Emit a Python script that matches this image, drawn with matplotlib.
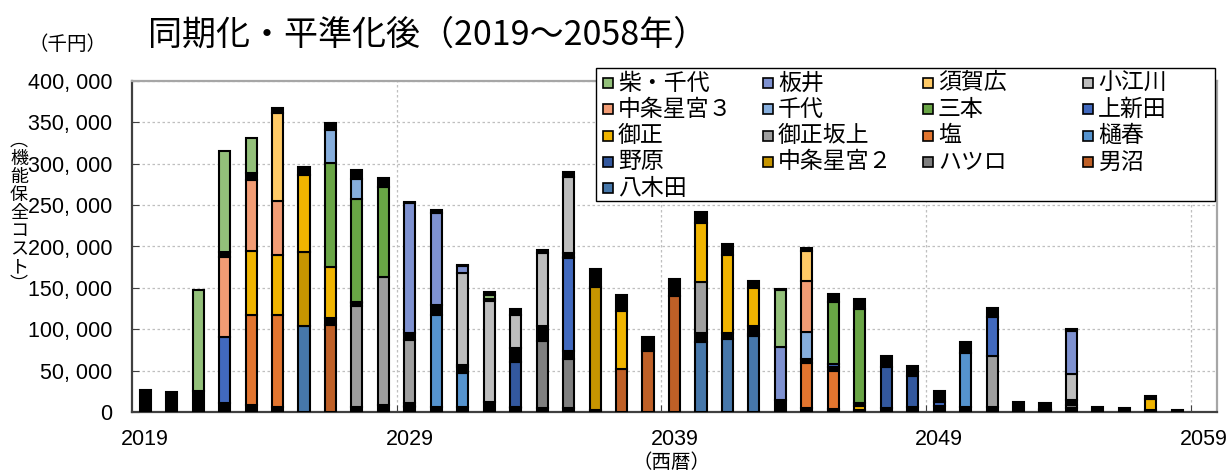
import numpy as np
import matplotlib.pyplot as plt
from matplotlib.patches import Rectangle
from matplotlib.ticker import MultipleLocator, FuncFormatter

plt.rcParams['font.family'] = ['Noto Sans CJK JP', 'DejaVu Sans']

# data (千円), one value per year 2019..2058
years = np.arange(2019, 2059)

shiba = [0, 0, 122600, 121900, 41400, 0, 0, 0, 0, 0,
         0, 0, 0, 5000, 0, 0, 0, 0, 0, 0,
         0, 0, 0, 0, 68300, 0, 0, 0, 0, 0,
         0, 0, 0, 0, 0, 0, 0, 0, 0, 0]
itai = [0, 0, 0, 0, 0, 0, 0, 0, 0, 0,
        156900, 111500, 8000, 0, 0, 0, 0, 0, 0, 0,
        0, 0, 0, 0, 64000, 0, 0, 0, 0, 0,
        0, 0, 0, 0, 0, 52300, 0, 0, 0, 0]
sukahiro = [0, 0, 0, 0, 0, 107100, 0, 0, 0, 0,
            0, 0, 0, 2000, 0, 0, 0, 0, 0, 0,
            0, 0, 0, 0, 0, 36600, 0, 0, 0, 0,
            0, 0, 0, 0, 0, 0, 0, 0, 0, 0]
koegawa = [0, 0, 0, 0, 0, 0, 0, 0, 0, 0,
           0, 0, 110900, 123000, 40300, 88500, 90900, 0, 0, 0,
           0, 0, 0, 0, 0, 0, 0, 0, 0, 0,
           0, 0, 0, 0, 0, 31400, 0, 0, 0, 0]
chujo3 = [0, 0, 0, 96500, 85300, 65100, 0, 0, 0, 0,
          0, 0, 2500, 0, 0, 0, 2000, 0, 0, 0,
          0, 0, 0, 0, 0, 61100, 0, 0, 0, 0,
          0, 0, 0, 0, 0, 0, 0, 0, 0, 0]
chiyo = [0, 0, 0, 0, 0, 0, 0, 40200, 23700, 0,
         0, 0, 0, 0, 0, 0, 0, 0, 0, 0,
         0, 0, 0, 0, 0, 33500, 0, 0, 0, 0,
         0, 0, 0, 0, 0, 0, 0, 0, 0, 0]
sanbon = [0, 0, 0, 0, 0, 0, 0, 124700, 124700, 107800,
          0, 0, 0, 0, 0, 0, 0, 0, 0, 0,
          0, 0, 0, 0, 0, 0, 75300, 113400, 0, 0,
          0, 0, 0, 0, 0, 0, 0, 0, 0, 0]
kamishinden = [0, 0, 0, 79500, 0, 0, 0, 0, 1500, 0,
               0, 0, 0, 0, 0, 0, 112700, 0, 0, 0,
               0, 0, 0, 0, 0, 0, 3500, 0, 0, 0,
               4000, 0, 47100, 0, 0, 0, 0, 0, 0, 0]
mishou = [0, 0, 0, 0, 78400, 72000, 92500, 62400, 0, 0,
          0, 0, 0, 0, 0, 0, 0, 0, 70000, 0,
          0, 70400, 93800, 45500, 0, 0, 0, 4000, 0, 0,
          0, 0, 0, 0, 0, 0, 0, 0, 12900, 0]
sakaue = [0, 0, 0, 0, 0, 0, 0, 0, 122300, 154900,
          76400, 0, 0, 0, 0, 0, 0, 0, 0, 0,
          0, 61600, 0, 0, 0, 0, 0, 0, 0, 0,
          0, 0, 62400, 0, 0, 0, 0, 0, 0, 0]
shio = [0, 0, 0, 0, 107900, 111500, 0, 0, 0, 0,
        0, 0, 0, 0, 0, 0, 0, 0, 0, 0,
        0, 0, 0, 0, 0, 54300, 46700, 0, 0, 0,
        0, 0, 0, 0, 1200, 0, 0, 0, 0, 0]
hiharu = [0, 0, 0, 0, 0, 0, 0, 0, 0, 0,
          0, 111500, 41100, 0, 0, 0, 0, 0, 0, 0,
          0, 0, 0, 3000, 0, 0, 0, 0, 0, 0,
          0, 66000, 0, 0, 0, 0, 0, 0, 0, 0]
nohara = [0, 0, 0, 0, 0, 0, 0, 0, 0, 0,
          0, 0, 0, 0, 55000, 0, 0, 0, 0, 0,
          0, 0, 0, 0, 0, 0, 0, 0, 49500, 37000,
          0, 0, 0, 0, 0, 0, 0, 0, 0, 0]
chujo2 = [0, 0, 0, 0, 0, 0, 89700, 0, 0, 0,
          1500, 0, 0, 0, 1500, 0, 0, 148000, 0, 0,
          0, 0, 0, 0, 0, 0, 0, 0, 0, 0,
          0, 0, 0, 0, 0, 0, 0, 0, 0, 0]
hatsuro = [0, 0, 0, 0, 0, 0, 0, 0, 0, 0,
           0, 0, 0, 0, 0, 80500, 59200, 0, 0, 0,
           0, 0, 0, 0, 0, 0, 0, 0, 0, 0,
           0, 0, 0, 0, 0, 4000, 0, 0, 0, 0]
onuma = [0, 0, 0, 0, 0, 0, 0, 105400, 0, 0,
         0, 0, 0, 0, 0, 0, 0, 0, 52300, 73600,
         140000, 0, 0, 0, 0, 0, 0, 0, 0, 0,
         0, 0, 0, 0, 0, 0, 0, 0, 0, 0]
yagita = [0, 0, 0, 0, 0, 0, 104200, 0, 0, 0,
          0, 0, 0, 0, 0, 0, 0, 0, 0, 0,
          0, 84900, 87700, 91700, 0, 0, 0, 0, 0, 0,
          0, 0, 0, 0, 0, 0, 0, 0, 0, 0]

# small facilities not in the legend (drawn black)
other_bottom = [26000, 24000, 25000, 11000, 8800, 6000, 0, 0, 6000, 8800,
                5500, 6000, 6000, 11700, 4500, 4800, 4800, 2800, 0, 0,
                0, 0, 0, 0, 14900, 4400, 3200, 3000, 4400, 6400,
                7600, 5600, 5600, 12500, 2400, 4400, 6400, 4400, 2400, 2400]
other_mid1 = [0, 0, 0, 0, 0, 0, 0, 8000, 0, 0,
              3900, 12000, 7500, 0, 16000, 18900, 9200, 0, 0, 0,
              0, 10900, 8000, 9100, 0, 4800, 4500, 0, 0, 0,
              0, 0, 0, 0, 6900, 6100, 0, 0, 0, 0]
other_mid2 = [0, 0, 0, 0, 0, 0, 0, 0, 3000, 0,
              8000, 0, 0, 0, 0, 0, 0, 0, 0, 0,
              0, 0, 0, 0, 0, 0, 0, 3500, 0, 0,
              0, 0, 0, 0, 0, 0, 0, 0, 0, 0]
other_mid3 = [0, 0, 0, 6000, 8900, 0, 0, 0, 0, 0,
              0, 0, 0, 0, 0, 0, 4800, 0, 0, 0,
              0, 0, 0, 0, 0, 0, 0, 0, 0, 0,
              0, 0, 0, 0, 0, 0, 0, 0, 0, 0]
other_top = [0, 0, 0, 0, 0, 5200, 10100, 8100, 11300, 10900,
             1000, 3000, 1800, 3900, 7400, 3200, 6900, 22000, 18500, 17300,
             21300, 14100, 13300, 9200, 1700, 4000, 8800, 12100, 13700, 12100,
             13700, 12900, 10000, 0, 0, 1600, 0, 0, 4000, 0]

# legend order (same as the original chart)
legend_names = ['柴・千代', '板井', '須賀広', '小江川',
                '中条星宮３', '千代', '三本', '上新田',
                '御正', '御正坂上', '塩', '樋春',
                '野原', '中条星宮２', 'ハツロ', '男沼',
                '八木田']
legend_vals = [shiba, itai, sukahiro, koegawa, chujo3, chiyo, sanbon, kamishinden,
               mishou, sakaue, shio, hiharu, nohara, chujo2, hatsuro, onuma, yagita]
colors = ['#93C07A', '#7E91D0', '#FFCA66', '#BDBDBD',
          '#F29C74', '#86AEDD', '#69A545', '#4169BE',
          '#F0B400', '#9E9E9E', '#E2752F', '#5593CE',
          '#33589E', '#C69500', '#7F7F7F', '#BF6027',
          '#4677AA']
BLACK = '#000000'

# stacking from bottom to top
col = dict(zip(legend_names, colors))
val = dict(zip(legend_names, legend_vals))
stack = [(other_bottom, BLACK)]
for nm in ['八木田', '男沼', 'ハツロ', '中条星宮２', '野原', '樋春', '塩']:
    stack.append((val[nm], col[nm]))
stack.append((other_mid1, BLACK))
for nm in ['御正坂上', '御正']:
    stack.append((val[nm], col[nm]))
stack.append((other_mid2, BLACK))
for nm in ['上新田', '三本', '千代', '中条星宮３']:
    stack.append((val[nm], col[nm]))
stack.append((other_mid3, BLACK))
for nm in ['小江川', '須賀広', '板井', '柴・千代']:
    stack.append((val[nm], col[nm]))
stack.append((other_top, BLACK))

W, H = 1228, 475
fig = plt.figure(figsize=(W / 100, H / 100), dpi=100)
ax = fig.add_axes([132 / W, 1 - 412 / H, (1217 - 132) / W, (412 - 81) / H])

bottom = np.zeros(len(years))
for vals, c in stack:
    v = np.array(vals, dtype=float)
    m = v > 0
    ax.bar(years[m], v[m], bottom=bottom[m], width=0.42, color=c,
           edgecolor='black', linewidth=1.5, zorder=3)
    bottom += v

ax.set_xlim(2018.5, 2059.5)
ax.set_ylim(0, 400000)
ax.yaxis.set_major_locator(MultipleLocator(50000))
ax.yaxis.set_major_formatter(FuncFormatter(lambda v, p: f"{v:,.0f}".replace(',', ', ')))

ax.set_xticks([2028.5, 2038.5, 2048.5, 2058.5])
ax.set_xticklabels([])
ax.set_xticks([2019, 2029, 2039, 2049, 2059], minor=True)
ax.set_xticklabels(['2019', '2029', '2039', '2049', '2059'], minor=True)
ax.tick_params(axis='x', which='major', direction='in', length=5, color='#404040')
ax.tick_params(axis='x', which='minor', length=0, pad=12, labelsize=15.5,
               labelfontfamily='Liberation Sans')
ax.tick_params(axis='y', direction='in', length=5, color='#404040', pad=14, labelsize=15.5,
               labelfontfamily='Liberation Sans')

ax.grid(axis='y', color='#BFBFBF', linestyle=(0, (2, 2)), linewidth=0.9)
ax.grid(axis='x', which='major', color='#BFBFBF', linestyle=(0, (2, 2)), linewidth=0.9)
ax.set_axisbelow(True)

for s in ['left', 'bottom']:
    ax.spines[s].set_color('#404040')
    ax.spines[s].set_linewidth(1.6)
for s in ['top', 'right']:
    ax.spines[s].set_color('#A6A6A6')
    ax.spines[s].set_linewidth(1.6)

# texts
fig.text(148 / W, 1 - 35 / H, '同期化・平準化後（2019～2058年）', fontsize=24.5,
         ha='left', va='center')
fig.text(68 / W, 1 - 45 / H, '（千円）', fontsize=14, ha='center', va='center')
fig.text(19 / W, 1 - 213 / H, '\n'.join('︵機能保全コスト︶'), fontsize=13,
         ha='center', va='center', linespacing=1.0)
fig.text(671 / W, 1 - 463 / H, '（西暦）', fontsize=14, ha='center', va='center')

# legend box, filled row by row like the original
fig.add_artist(Rectangle((596 / W, 1 - 201 / H), (1215 - 596) / W, (201 - 68) / H,
                         transform=fig.transFigure, facecolor='white',
                         edgecolor='black', linewidth=1.0, zorder=5))
for k, (nm, c) in enumerate(zip(legend_names, colors)):
    r, cidx = divmod(k, 4)
    mx = 608 + cidx * 160
    my = 83 + r * 26.3
    fig.add_artist(Rectangle(((mx - 5) / W, 1 - (my + 5) / H), 10 / W, 10 / H,
                             transform=fig.transFigure, facecolor=c,
                             edgecolor='black', linewidth=1.2, zorder=6))
    fig.text((mx + 10) / W, 1 - my / H, nm, fontsize=16.5, ha='left', va='center',
             zorder=7)

fig.savefig('out.png', dpi=100)
